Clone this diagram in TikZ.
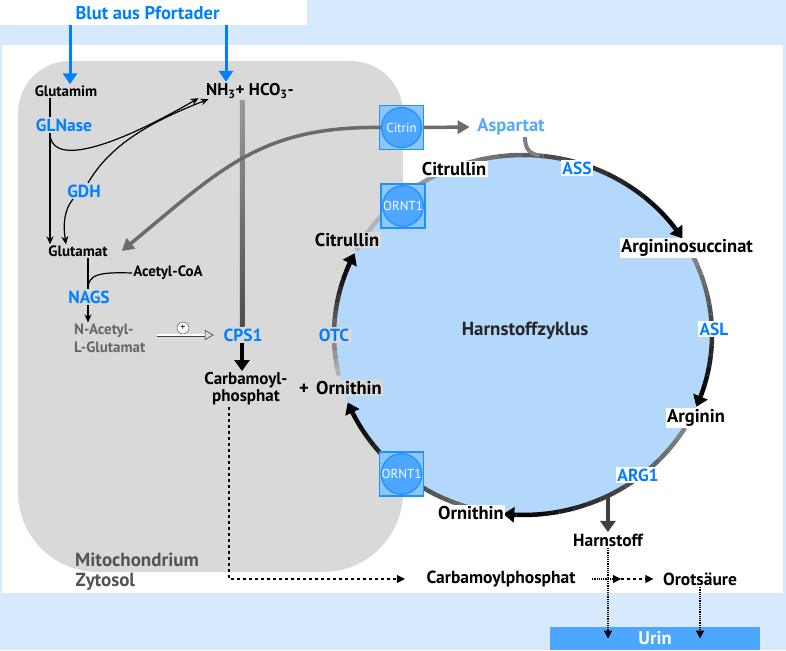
\documentclass[tikz,border=0pt]{standalone}
\usepackage{fontspec}
\setmainfont{PT Sans}
\usepackage{xcolor}
\definecolor{enzblue}{RGB}{0,128,255}
\definecolor{aspblue}{RGB}{85,170,250}
\definecolor{bandblue}{RGB}{215,233,252}
\definecolor{cycblue}{RGB}{179,216,252}
\definecolor{mitogray}{RGB}{217,217,217}
\definecolor{carrierblue}{RGB}{77,166,255}
\definecolor{carrieredge}{RGB}{30,144,255}
\definecolor{boxblue}{RGB}{140,198,250}
\usepackage{tikz}
\usetikzlibrary{arrows.meta,positioning,calc}

% gradient piece of the urea cycle ring: from angle, to angle, start black%, end black%
\newcommand\cycarc[4]{%
  \foreach \k in {1,...,14}{%
    \pgfmathsetmacro\ta{(#1)+((#2)-(#1))*(\k-1)/14}%
    \pgfmathsetmacro\tb{(#1)+((#2)-(#1))*\k/14}%
    \pgfmathsetmacro\sh{(#3)+((#4)-(#3))*\k/14}%
    \draw[cycline, black!\sh!white] ($(cyc)+(\ta:189 and 180)$) arc[start angle=\ta, end angle=\tb, x radius=189, y radius=180];
  }}
% arrow head at the end of a ring piece
\newcommand\cyctip[1]{%
  \draw[cyctip] ($(cyc)+(#1-4:189 and 180)$) -- ($(cyc)+(#1:189 and 180)$);}

\begin{document}
\begin{tikzpicture}[
    x=1pt, y=-1pt,
    lbl/.style={font=\bfseries\fontsize{18.5}{18}\selectfont, inner sep=1.5pt},
    small/.style={font=\bfseries\fontsize{15}{18}\selectfont, inner sep=1pt},
    enz/.style={lbl, font=\bfseries\fontsize{17.5}{18}\selectfont, text=enzblue},
    cyto/.style={lbl, font=\bfseries\fontsize{17.5}{18}\selectfont},
    onmito/.style={fill=mitogray},
    oncyc/.style={fill=white},
    carrierbox/.style={rectangle, draw=carrieredge, fill=boxblue, line width=1.2pt, minimum size=44pt, inner sep=0pt},
    carrier/.style={circle, draw=carrieredge, fill=carrierblue, line width=1.2pt, minimum size=40pt, inner sep=0pt, text=white, font=\fontsize{13}{13}\selectfont},
    arrow/.style={-{Stealth[length=8pt,width=7pt]}, line width=1.2pt},
    inflow/.style={-{Triangle[length=11pt,width=14pt]}, line width=3pt, enzblue},
    transport/.style={-{Triangle[length=12pt,width=13pt]}, line width=3.5pt, black!58},
    cycline/.style={line width=4.5pt},
    cyctip/.style={line width=4.5pt, black, -{Triangle[length=11pt,width=15pt]}},
    activ/.style={double=white, double distance=1.8pt, line width=0.6pt, draw=black!75, -{Triangle[open,length=9pt,width=10pt]}},
    waste/.style={line width=1.2pt, -{Triangle[length=8pt,width=8pt]}}
]
\useasboundingbox (0,0) rectangle (786,650);

% Compartments
\fill[bandblue] (0,0) rectangle (786,650);
\fill[white] (2,45) rectangle (783,593);
\fill[white] (0,0) rectangle (307,25);
\fill[mitogray] (18,300) [rounded corners=52pt] -- (18,61) -- (403,61) -- (403,300)
    [rounded corners=80pt] -- (403,572) -- (18,572) -- cycle;
\coordinate (cyc) at (523,335);
\fill[cycblue] (cyc) ellipse [x radius=189, y radius=180];

% Urea cycle ring
\cycarc{-152}{-131}{28}{32}
\cycarc{-131}{-36.5}{30}{100}
\cyctip{-32.5}
\cycarc{-26}{19.5}{45}{100}
\cyctip{23.5}
\cycarc{31}{92}{45}{100}
\cyctip{96}
\cycarc{104}{130}{55}{75}
\cycarc{130}{154}{75}{100}
\cyctip{158}
\cycarc{167}{203}{25}{100}
\cyctip{207}

% Mitochondrium
\node[lbl, text=enzblue] (blut) at (147.5,13) {Blut aus Pfortader};
\node[small] (glm) at (66,91) {Glutamim};
\node[lbl, font=\bfseries\fontsize{17}{18}\selectfont] (nh3) at (250,91) {NH\textsubscript{3}+ HCO\textsubscript{3}-};
\node[enz] (glnase) at (64,125) {GLNase};
\node[enz] (gdh) at (84,191) {GDH};
\node[small] (glu) at (78,251) {Glutamat};
\node[small] (acoa) at (168,273) {Acetyl-CoA};
\node[enz] (nags) at (89,297) {NAGS};
\node[small, text=black!60, align=left, anchor=west] (nag) at (73,338) {N-Acetyl-\\L-Glutamat};
\node[circle, draw=black!75, fill=white, inner sep=0pt, minimum size=12pt, font=\fontsize{10}{10}\selectfont] (act) at (183,328) {+};
\node[enz] (cps1) at (243,335) {CPS1};
\node[lbl, font=\bfseries\fontsize{17}{17}\selectfont, align=center] (carb) at (246,389) {Carbamoyl-\\phosphat};
\node[lbl] (plus) at (304,389) {+};
\node[lbl, onmito] (ornm) at (349,388) {Ornithin};
\node[enz, onmito] (otc) at (334,335) {OTC};
\node[lbl, onmito] (citm) at (347,240) {Citrullin};
\node[lbl, font=\bfseries\fontsize{19}{18}\selectfont, text=black!67] (mito) at (137,560) {Mitochondrium};
\node[lbl, font=\bfseries\fontsize{19}{18}\selectfont, text=black!67, anchor=west] (cyto) at (74,582) {Zytosol};

% Cycle labels
\node[lbl, oncyc] (citc) at (454,169) {Citrullin};
\node[enz, oncyc] (ass) at (577,168) {ASS};
\node[lbl, text=aspblue] (asp) at (511,127) {Aspartat};
\node[lbl, oncyc] (asuc) at (687,248) {Argininosuccinat};
\node[lbl, font=\bfseries\fontsize{19}{18}\selectfont, text=black!85] (cycle) at (525,331) {Harnstoffzyklus};
\node[enz, oncyc] (asl) at (714,329) {ASL};
\node[lbl, oncyc] (arg) at (696,418) {Arginin};
\node[enz, oncyc] (arg1) at (638,475) {ARG1};
\node[lbl, oncyc] (ornc) at (471,513) {Ornithin};
\node[cyto] (harn) at (608,540) {Harnstoff};

% Cytosol
\node[cyto] (cpz) at (501,579) {Carbamoylphosphat};
\node[cyto] (orot) at (700,579) {Orotsäure};
\node[lbl, fill=carrierblue, text=white, minimum width=210pt, minimum height=23pt, inner sep=0pt] (urin) at (655,638.5) {Urin};

% Carriers
\node[carrierbox] (citrinbox) at (401.5,127.5) {};
\node[carrier] (citrin) at (citrinbox) {Citrin};
\node[carrierbox] (ornt1abox) at (403,206) {};
\node[carrier] (ornt1a) at (ornt1abox) {ORNT1};
\node[carrierbox] (ornt1bbox) at (401.5,474) {};
\node[carrier] (ornt1b) at (ornt1bbox) {ORNT1};

% Inflow from blood
\coordinate (in1) at (70,25);
\coordinate (in2) at (226,25);
\draw[inflow] (in1) -- (in1 |- glm.north);
\draw[inflow] (in2) -- (in2 |- nh3.north);

% Glutamine / glutamate
\coordinate (lx) at (50,0);
\draw[line width=1.2pt] (lx |- glm.south) -- (lx |- glnase.north);
\draw[arrow] (lx |- glnase.south) -- (lx |- glu.north);
\draw[arrow] (lx |- glnase.south) .. controls +(0,30) and (100,155) .. ([xshift=-6pt,yshift=2pt]nh3.south west);
\draw[arrow] ([xshift=4pt]gdh.north) .. controls (110,145) and (150,122) .. ([xshift=4pt,yshift=1pt]nh3.south west);
\draw[arrow] ([xshift=-11pt]gdh.south) .. controls (64,210) and (63,225) .. ([xshift=-12pt]glu.north);
\coordinate (nx) at (88,0);
\draw[line width=1.2pt] (nx |- glu.south) -- (nx |- nags.north);
\draw[line width=1.2pt] (acoa.west) .. controls (100,272) and (88,274) .. (nx |- nags.north);
\draw[arrow] (nx |- nags.south) -- (nx |- nag.north);
\draw[activ] ([xshift=10pt]nag.east |- cps1.west) -- ([xshift=-8pt]cps1.west);

% CPS1
\coordinate (vx) at (242,0);
\shade[top color=black!40, bottom color=black!70] ($(vx |- nh3.south)+(-2.25,0)$) rectangle ($(vx |- cps1.north)+(2.25,0)$);
\draw[cyctip] (vx |- cps1.south) -- (vx |- carb.north);

% Citrin
\draw[transport] (citrin.west) .. controls (260,126) and (220,170) .. ([xshift=13pt]glu.east);
\draw[transport] (citrinbox.east) -- ([xshift=-6pt]asp.west);
\draw[line width=4pt, black!50] ([xshift=14pt]asp.south) .. controls +(0,12) and +(-10,-2) .. ($(cyc)+(-85:189 and 180)$);

% Urea
\coordinate (hb) at ($(cyc)+(63.3:189 and 180)$);
\draw[cyctip, black!75] (hb) -- (hb |- harn.north);

% Cytosol pathways
\draw[waste, dashed] ([xshift=-17pt]carb.south) |- ([xshift=-20pt]cpz.west);
\coordinate (mid) at (621,579);
\draw[waste, densely dotted] ([xshift=15pt]cpz.east) -- (mid);
\draw[waste, dashed] (mid) -- ([xshift=-8pt]orot.west);
\draw[waste, densely dotted] (harn.south) -- (harn.south |- urin.center);
\draw[waste, densely dotted] (orot.south) -- (orot.south |- urin.center);
\end{tikzpicture}
\end{document}
